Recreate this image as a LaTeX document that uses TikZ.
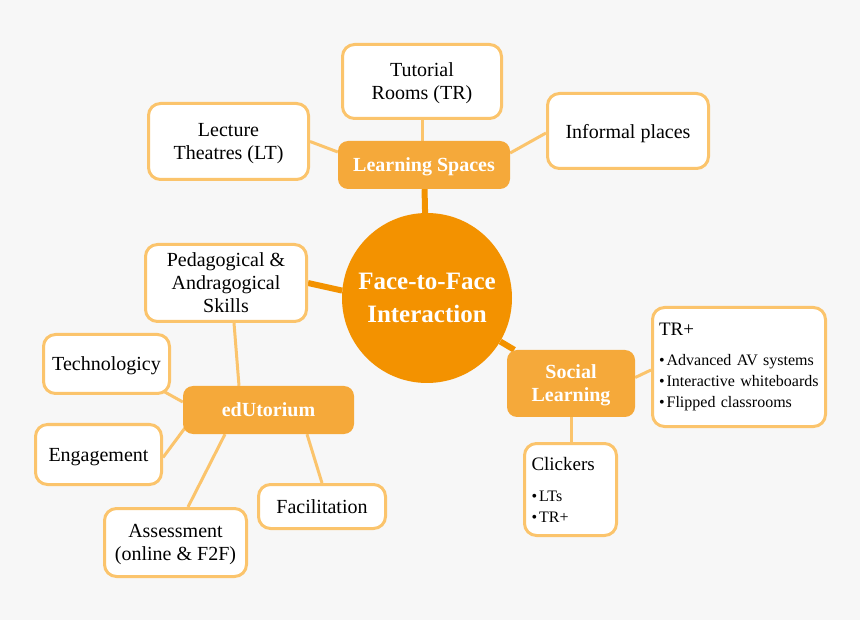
\documentclass[tikz,border=0pt]{standalone}
\usepackage{fontspec}
\setmainfont{Liberation Serif}
\usetikzlibrary{calc,backgrounds}
\definecolor{bgc}{HTML}{F7F7F7}
\definecolor{hub}{HTML}{F39200}
\definecolor{sub}{HTML}{F5A93A}
\definecolor{leaf}{HTML}{FBC46C}
\tikzset{
  leafbox/.style={draw=leaf, line width=3pt, fill=white, rounded corners=12pt,
    align=center, font=\fontsize{20}{23}\selectfont, inner sep=2pt},
  flatbase/.style={text depth=0pt},
  subbox/.style={fill=sub, rounded corners=10pt, text=white,
    font=\bfseries\fontsize{20}{23}\selectfont, align=center, inner sep=2pt, text depth=0pt},
  hubcircle/.style={circle, fill=hub, text=white,
    font=\bfseries\fontsize{25}{33}\selectfont, align=center,
    minimum size=170pt, inner sep=0pt},
  thinlink/.style={draw=leaf, line width=3pt},
  thicklink/.style={draw=hub, line width=6pt}
}
\begin{document}
\begin{tikzpicture}[x=1pt,y=-1pt]
% hub
\node[hubcircle] (hub) at (427,298) {Face-to-Face\\Interaction};
% subtopics
\node[subbox, minimum width=172pt, minimum height=48pt] (ls) at (424,165) {Learning Spaces};
\node[subbox, minimum width=171pt, minimum height=48pt] (edu) at (268.5,410) {edUtorium};
\node[subbox, minimum width=128pt, minimum height=67pt] (social) at (571,383.5) {Social\\Learning};
% leaves of Learning Spaces
\node[leafbox, flatbase, minimum width=159pt, minimum height=74pt] (tutorial) at (422,81.5) {Tutorial\\Rooms (TR)};
\node[leafbox, flatbase, minimum width=160pt, minimum height=76pt] (lecture) at (228.5,141.5) {Lecture\\Theatres (LT)};
\node[leafbox, flatbase, minimum width=161pt, minimum height=75pt] (informal) at (628,131) {Informal places};
% Pedagogical
\node[leafbox, flatbase, minimum width=161pt, minimum height=77pt] (pedag) at (226,283) {Pedagogical \&\\Andragogical\\Skills};
% leaves of edUtorium
\node[leafbox, flatbase, minimum width=126pt, minimum height=59pt] (tech) at (106.5,364) {Technologicy};
\node[leafbox, flatbase, minimum width=126pt, minimum height=60pt] (engage) at (98.5,454.5) {Engagement};
\node[leafbox, flatbase, minimum width=142pt, minimum height=68pt] (assess) at (175.5,542.5) {Assessment\\(online \& F2F)};
\node[leafbox, flatbase, minimum width=127pt, minimum height=44pt] (facil) at (322,506.5) {Facilitation};
% leaves of Social Learning
\node[leafbox, minimum width=173pt, minimum height=119pt, text width=160pt, align=left,
  font=\fontsize{16}{21}\selectfont] (trplus) at (739,367)
  {{\fontsize{19}{21}\selectfont TR+}\\[9pt]\textbullet\hspace{2pt}Advanced AV systems\\\textbullet\hspace{2pt}Interactive whiteboards\\\textbullet\hspace{2pt}Flipped classrooms};
\node[leafbox, minimum width=92pt, minimum height=92pt, text width=78pt, align=left,
  font=\fontsize{16}{21}\selectfont] (clickers) at (570.5,489.5)
  {{\fontsize{19}{21}\selectfont Clickers}\\[10pt]\textbullet\hspace{2pt}LTs\\\textbullet\hspace{2pt}TR+};
% connectors
\begin{scope}[on background layer]
\fill[bgc] (0,0) rectangle (860,620);
\draw[thicklink] (ls) -- (hub);
\draw[thicklink] (hub) -- (social);
\draw[thicklink] (hub.175) -- (pedag.east);
\draw[thinlink] (tutorial) -- (tutorial |- ls);
\draw[thinlink] (lecture.east) -- ($(ls.west)+(0,-13)$);
\draw[thinlink] ($(ls.east)+(0,-12)$) -- ($(informal.west)+(0,2)$);
\draw[thinlink] ($(social.east)+(0,-6)$) -- ($(trplus.west)+(0,3)$);
\draw[thinlink] (social) -- (social |- clickers);
\draw[thinlink] ($(edu.north)+(-29.5,0)$) -- ($(pedag.south)+(8,0)$);
\draw[thinlink] ($(edu.west)+(0,-8)$) -- ($(tech.south east)+(-8,-4)$);
\draw[thinlink] ($(edu.south west)+(2,-6)$) -- ($(engage.east)+(0,3)$);
\draw[thinlink] ($(edu.south)+(-43.5,0)$) -- ($(assess.north)+(12.5,0)$);
\draw[thinlink] ($(edu.south)+(38.5,0)$) -- (facil.north);
\end{scope}
\end{tikzpicture}
\end{document}
